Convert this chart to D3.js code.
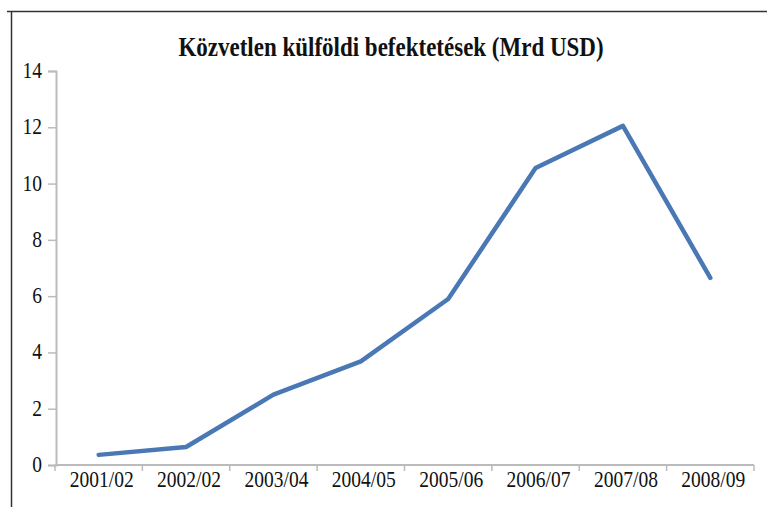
<!DOCTYPE html>
<html lang="hu">
<head>
<meta charset="utf-8">
<title>Közvetlen külföldi befektetések</title>
<script src="https://cdn.jsdelivr.net/npm/d3@7"></script>
<style>
  body { margin: 0; background: #fff; }
  svg text { font-family: "Liberation Serif", "Times New Roman", serif; fill: #111; }
</style>
</head>
<body>
<script>
const width = 767;
const height = 507;

const title = "Közvetlen külföldi befektetések (Mrd USD)";
const years = ["2001/02", "2002/02", "2003/04", "2004/05", "2005/06", "2006/07", "2007/08", "2008/09"];
const fdi = [0.36, 0.64, 2.5, 3.68, 5.9, 10.55, 12.05, 6.65];
const yTicks = [0, 2, 4, 6, 8, 10, 12, 14];

const margin = {top: 71, right: 13, bottom: 42, left: 55};
const stretch = 1.15; // the source glyphs are a bit taller than wide

const svg = d3.select(document.body).append("svg")
  .attr("width", width).attr("height", height);

// frame (only top and left edges are visible in the crop)
svg.append("path")
  .attr("d", "M7,11.5H767M11.5,11.5V507")
  .attr("fill", "none").attr("stroke", "#333").attr("stroke-width", 1.5);

const x = d3.scaleBand().domain(years).range([margin.left, width - margin.right]).padding(0);
const y = d3.scaleLinear().domain([0, 14]).range([height - margin.bottom, margin.top]);

svg.append("text")
  .attr("transform", "translate(391,56) scale(1," + stretch + ")")
  .attr("text-anchor", "middle")
  .attr("font-size", "23px").attr("font-weight", "bold")
  .text(title);

// y axis
const yAxis = svg.append("g").attr("transform", "translate(" + (margin.left + 1) + ",0)")
  .call(d3.axisLeft(y).tickValues(yTicks).tickSize(8).tickPadding(6));
yAxis.attr("font-family", null);
yAxis.select(".domain").attr("stroke", "#bbb").attr("stroke-width", 2);
yAxis.selectAll(".tick line").attr("stroke", "#bbb").attr("stroke-width", 1.5);
yAxis.selectAll(".tick text")
  .attr("x", null).attr("dy", null)
  .attr("transform", "translate(-14,6.5) scale(1," + stretch + ")")
  .attr("font-size", "19.5px");

// x axis: ticks at band boundaries
const xAxisG = svg.append("g").attr("transform", "translate(0," + y(0) + ")");
xAxisG.append("line")
  .attr("x1", margin.left).attr("x2", width - margin.right)
  .attr("stroke", "#bbb").attr("stroke-width", 2);
const edges = years.map(d => x(d)).concat([x(years[years.length - 1]) + x.bandwidth()]);
xAxisG.selectAll("line.tk")
  .data(edges)
  .enter().append("line").attr("class", "tk")
  .attr("x1", d => d).attr("x2", d => d)
  .attr("y1", 0).attr("y2", 6)
  .attr("stroke", "#bbb").attr("stroke-width", 1.5);
xAxisG.selectAll("text")
  .data(years)
  .enter().append("text")
  .attr("transform", d => "translate(" + (x(d) + x.bandwidth() / 2 + 3) + ",22) scale(1," + stretch + ")")
  .attr("text-anchor", "middle")
  .attr("font-size", "19.5px")
  .text(d => d);

// line
const line = d3.line()
  .x((d, i) => x(years[i]) + x.bandwidth() / 2)
  .y(d => y(d));

svg.append("path")
  .datum(fdi)
  .attr("d", line)
  .attr("fill", "none")
  .attr("stroke", "#4a78b5")
  .attr("stroke-width", 4.5)
  .attr("stroke-linejoin", "round")
  .attr("stroke-linecap", "round");
</script>
</body>
</html>
